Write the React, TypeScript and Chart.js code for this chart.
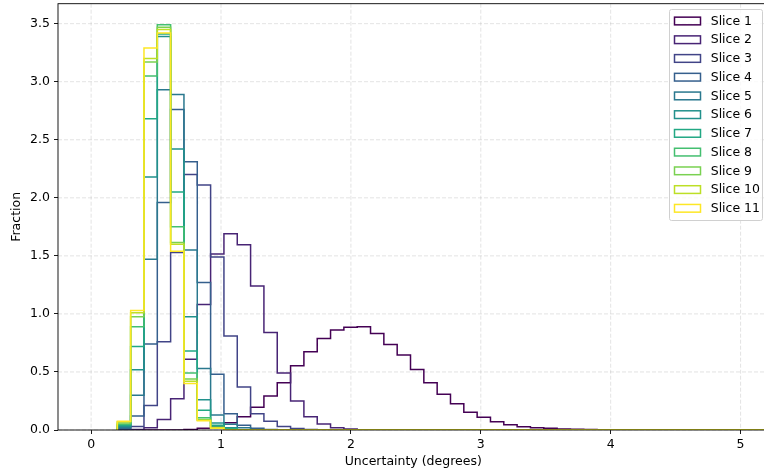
import React, { useEffect, useRef } from "react";
import { Chart, registerables } from "chart.js";

Chart.register(...registerables);

// ---- data ----
const BIN_START = 0.2017;
const BIN_WIDTH = 0.1026;
const BIN_COUNT = 50;

const sliceLabels = [
  "Slice 1", "Slice 2", "Slice 3", "Slice 4", "Slice 5", "Slice 6",
  "Slice 7", "Slice 8", "Slice 9", "Slice 10", "Slice 11",
];

const sliceColors = [
  "#440154", "#482475", "#414487", "#355f8d", "#2a788e", "#21918c",
  "#22a884", "#44bf70", "#7ad151", "#bddf26", "#fde725",
];

// density per bin (bin 0 starts at BIN_START); bins not listed are 0
const slice1 = [
  0, 0, 0, 0, 0, 0.005, 0.015, 0.035, 0.063, 0.115,
  0.196, 0.293, 0.408, 0.554, 0.675, 0.789, 0.861, 0.885, 0.889, 0.832,
  0.737, 0.645, 0.522, 0.408, 0.307, 0.227, 0.152, 0.109, 0.072, 0.046,
  0.029, 0.02, 0.014, 0.009, 0.006, 0.004, 0.003, 0.002, 0.001, 0.001,
];
const slice2 = [
  0, 0.005, 0.02, 0.09, 0.27, 0.61, 1.08, 1.515, 1.69, 1.595,
  1.24, 0.84, 0.49, 0.25, 0.115, 0.052, 0.02, 0.008, 0.003,
];
const slice3 = [
  0.003, 0.03, 0.21, 0.76, 1.53, 2.2, 2.11, 1.49, 0.81, 0.37,
  0.14, 0.075, 0.03, 0.012, 0.005,
];
const slice4 = [0.01, 0.12, 0.74, 1.96, 2.76, 2.31, 1.27, 0.48, 0.14, 0.04, 0.015, 0.005];
const slice5 = [0.02, 0.3, 1.47, 2.93, 2.89, 1.55, 0.53, 0.13, 0.05, 0.02];
const slice6 = [0.03, 0.52, 2.18, 3.39, 2.42, 0.975, 0.26, 0.06, 0.02];
const slice7 = [0.04, 0.72, 2.68, 3.41, 2.05, 0.68, 0.17, 0.04, 0.01];
const slice8 = [0.05, 0.89, 3.05, 3.49, 1.75, 0.49, 0.106, 0.025, 0.005];
const slice9 = [0.06, 0.975, 3.17, 3.47, 1.615, 0.44, 0.09, 0.02];
const slice10 = [0.07, 1.01, 3.2, 3.45, 1.6, 0.42, 0.085, 0.02];
const slice11 = [0.075, 1.03, 3.29, 3.42, 1.54, 0.4, 0.08, 0.015];

const sliceValues = [
  slice1, slice2, slice3, slice4, slice5, slice6,
  slice7, slice8, slice9, slice10, slice11,
];

const xTicks = [0, 1, 2, 3, 4, 5];
const yTicks = [0, 0.5, 1.0, 1.5, 2.0, 2.5, 3.0, 3.5];

const X_MIN = -0.255;
const X_MAX = 5.215;
const Y_MIN = 0;
const Y_MAX = 3.672;

const xTitle = "Uncertainty (degrees)";
const yTitle = "Fraction";

const FONT = "'DejaVu Sans', sans-serif";
const FONT_SIZE = 12.5;

function stepPoints(values: number[]) {
  const pts: { x: number; y: number }[] = [];
  pts.push({ x: BIN_START, y: 0 });
  for (let k = 0; k < BIN_COUNT; k++) {
    pts.push({ x: BIN_START + k * BIN_WIDTH, y: values[k] ?? 0 });
  }
  const end = BIN_START + BIN_COUNT * BIN_WIDTH;
  pts.push({ x: end, y: values[BIN_COUNT - 1] ?? 0 });
  pts.push({ x: end, y: 0 });
  return pts;
}

const decorPlugin = {
  id: "decor",
  beforeDatasetsDraw(chart: any) {
    const { ctx, chartArea, scales } = chart;
    ctx.save();
    ctx.strokeStyle = "rgba(176,176,176,0.45)";
    ctx.lineWidth = 0.8;
    ctx.setLineDash([4, 2]);
    for (const v of xTicks) {
      const x = scales.x.getPixelForValue(v);
      ctx.beginPath();
      ctx.moveTo(x, chartArea.top);
      ctx.lineTo(x, chartArea.bottom);
      ctx.stroke();
    }
    for (const v of yTicks) {
      const y = scales.y.getPixelForValue(v);
      ctx.beginPath();
      ctx.moveTo(chartArea.left, y);
      ctx.lineTo(chartArea.right, y);
      ctx.stroke();
    }
    ctx.restore();
  },
  afterDatasetsDraw(chart: any) {
    const { ctx, chartArea } = chart;
    ctx.save();
    // spines
    ctx.strokeStyle = "#000";
    ctx.lineWidth = 0.9;
    ctx.strokeRect(chartArea.left, chartArea.top, chartArea.right - chartArea.left, chartArea.bottom - chartArea.top);

    // axis titles
    ctx.fillStyle = "#000";
    ctx.font = `${FONT_SIZE}px ${FONT}`;
    ctx.textAlign = "center";
    ctx.textBaseline = "middle";
    ctx.fillText(xTitle, (chartArea.left + chartArea.right) / 2, 462);
    ctx.save();
    ctx.translate(17, (chartArea.top + chartArea.bottom) / 2);
    ctx.rotate(-Math.PI / 2);
    ctx.fillText(yTitle, 0, 0);
    ctx.restore();

    // legend
    const lx = 669.5, ly = 9.5, lw = 93, lh = 211;
    ctx.fillStyle = "rgba(255,255,255,0.8)";
    ctx.strokeStyle = "#d0d0d0";
    ctx.lineWidth = 1;
    ctx.beginPath();
    const r = 2;
    ctx.moveTo(lx + r, ly);
    ctx.lineTo(lx + lw - r, ly);
    ctx.quadraticCurveTo(lx + lw, ly, lx + lw, ly + r);
    ctx.lineTo(lx + lw, ly + lh - r);
    ctx.quadraticCurveTo(lx + lw, ly + lh, lx + lw - r, ly + lh);
    ctx.lineTo(lx + r, ly + lh);
    ctx.quadraticCurveTo(lx, ly + lh, lx, ly + lh - r);
    ctx.lineTo(lx, ly + r);
    ctx.quadraticCurveTo(lx, ly, lx + r, ly);
    ctx.closePath();
    ctx.fill();
    ctx.stroke();

    const ds = chart.data.datasets;
    for (let i = 0; i < ds.length; i++) {
      const cy = 21 + i * 18.73;
      ctx.strokeStyle = ds[i].borderColor;
      ctx.lineWidth = 1.5;
      ctx.strokeRect(674.5, cy - 3.85, 26, 7.7);
      ctx.fillStyle = "#000";
      ctx.font = `${FONT_SIZE}px ${FONT}`;
      ctx.textAlign = "left";
      ctx.textBaseline = "middle";
      ctx.fillText(ds[i].label, 710.7, cy + 0.5);
    }
    ctx.restore();
  },
};

export default function App() {
  const canvasRef = useRef<HTMLCanvasElement | null>(null);

  useEffect(() => {
    document.body.style.margin = "0";
    const canvas = canvasRef.current;
    if (!canvas) return;
    const datasets = sliceValues.map((vals, i) => ({
      label: sliceLabels[i],
      data: stepPoints(vals),
      borderColor: sliceColors[i],
      backgroundColor: sliceColors[i],
      borderWidth: 1.5,
      pointRadius: 0,
      fill: false,
      stepped: "before" as const,
      tension: 0,
      order: sliceValues.length - i,
    }));

    const chart = new Chart(canvas, {
      type: "line",
      data: { datasets },
      options: {
        animation: false,
        responsive: false,
        maintainAspectRatio: false,
        devicePixelRatio: 1,
        layout: { padding: { top: 3.7, right: 1.5, left: 0, bottom: 0 } },
        plugins: {
          legend: { display: false },
          tooltip: { enabled: false },
        },
        scales: {
          x: {
            type: "linear",
            min: X_MIN,
            max: X_MAX,
            afterBuildTicks: (s: any) => {
              s.ticks = xTicks.map((v) => ({ value: v }));
            },
            afterFit: (s: any) => {
              s.height = 44;
              s.paddingLeft = 0;
              s.paddingRight = 0;
              s.paddingTop = 0;
              s.paddingBottom = 0;
            },
            ticks: {
              autoSkip: false,
              maxRotation: 0,
              color: "#000",
              padding: 3,
              font: { family: FONT, size: FONT_SIZE },
              callback: (v: any) => String(v),
            },
            grid: {
              drawOnChartArea: false,
              drawTicks: true,
              tickLength: 4,
              tickWidth: 0.9,
              tickColor: "#000",
            },
            border: { display: false },
          },
          y: {
            type: "linear",
            min: Y_MIN,
            max: Y_MAX,
            afterBuildTicks: (s: any) => {
              s.ticks = yTicks.map((v) => ({ value: v }));
            },
            afterFit: (s: any) => {
              s.width = 58;
              s.paddingLeft = 0;
              s.paddingRight = 0;
              s.paddingTop = 0;
              s.paddingBottom = 0;
            },
            ticks: {
              autoSkip: false,
              color: "#000",
              padding: 4,
              font: { family: FONT, size: FONT_SIZE },
              callback: (v: any) => Number(v).toFixed(1),
            },
            grid: {
              drawOnChartArea: false,
              drawTicks: true,
              tickLength: 4,
              tickWidth: 0.9,
              tickColor: "#000",
            },
            border: { display: false },
          },
        },
      },
      plugins: [decorPlugin],
    });
    return () => chart.destroy();
  }, []);

  return (
    <div style={{ width: 764, height: 474, overflow: "hidden", position: "relative" }}>
      <canvas
        ref={canvasRef}
        width={770}
        height={474}
        style={{ display: "block", width: 770, height: 474 }}
      />
    </div>
  );
}
